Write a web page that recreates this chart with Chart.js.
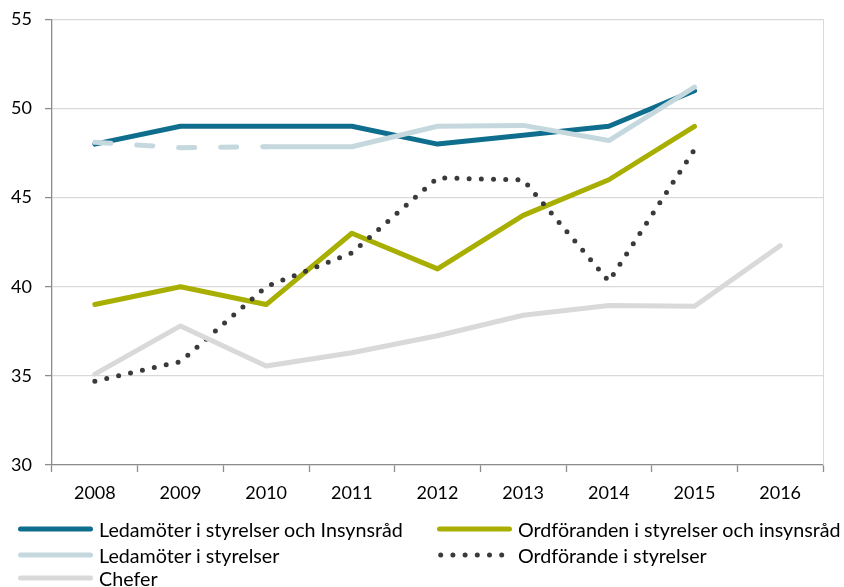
<!DOCTYPE html>
<html>
<head>
<meta charset="utf-8">
<script src="https://cdn.jsdelivr.net/npm/chart.js@4.4.1/dist/chart.umd.min.js"></script>
<style>
  html, body { margin: 0; padding: 0; background: #fff; }
  #wrap { position: relative; width: 844px; height: 587px; }
  #wrap canvas { position: absolute; left: 0; top: 0; }
  .lg { position: absolute; height: 24px; display: flex; align-items: center;
        font-family: Lato, "Liberation Sans", sans-serif; font-size: 19.7px; color: #000; white-space: nowrap; }
  .lg svg { display: block; margin-right: 6px; }
</style>
</head>
<body>
<div id="wrap">
  <canvas id="c" width="844" height="587"></canvas>
  <div id="legend"></div>
</div>
<script>
const years = ['2008','2009','2010','2011','2012','2013','2014','2015','2016'];
const ledamoterStyrelserInsynsrad = [48, 49, 49, 49, 48, 48.5, 49, 51, null];
const ordforandenStyrelserInsynsrad = [39, 40, 39, 43, 41, 44, 46, 49, null];
const ledamoterStyrelser = [48.1, 47.8, 47.85, 47.85, 49.0, 49.05, 48.2, 51.2, null];
const ordforandeStyrelser = [34.7, 35.8, 40.0, 41.9, 46.1, 46.0, 40.3, 47.7, null];
const chefer = [35.1, 37.8, 35.55, 36.3, 37.25, 38.4, 38.95, 38.9, 42.3];
const yTicks = [30, 35, 40, 45, 50, 55];

const seriesNames = [
  'Ledamöter i styrelser och Insynsråd',
  'Ordföranden i styrelser och insynsråd',
  'Ledamöter i styrelser',
  'Ordförande i styrelser',
  'Chefer'
];
const colors = ['#0f6e8d', '#a8af00', '#c5d8de', '#3a3a3a', '#d9d9d9'];

const rightBorder = {
  id: 'rightBorder',
  beforeDatasetsDraw(chart) {
    const a = chart.chartArea, ctx = chart.ctx;
    ctx.save();
    ctx.strokeStyle = '#d9d9d9';
    ctx.lineWidth = 1;
    ctx.beginPath();
    ctx.moveTo(Math.round(a.right) + 0.5, a.top);
    ctx.lineTo(Math.round(a.right) + 0.5, a.bottom);
    ctx.stroke();
    ctx.restore();
  }
};

const base = { pointRadius: 0, pointHoverRadius: 0, tension: 0, borderWidth: 5,
               borderCapStyle: 'round', borderJoinStyle: 'round', fill: false, spanGaps: false };

new Chart(document.getElementById('c'), {
  type: 'line',
  data: {
    labels: years,
    datasets: [
      Object.assign({}, base, { label: seriesNames[0], data: ledamoterStyrelserInsynsrad, borderColor: colors[0], order: 5 }),
      Object.assign({}, base, { label: seriesNames[1], data: ordforandenStyrelserInsynsrad, borderColor: colors[1], order: 4 }),
      Object.assign({}, base, { label: seriesNames[2], data: ledamoterStyrelser, borderColor: colors[2], order: 3,
        segment: { borderDash: ctx => ctx.p1DataIndex <= 2 ? [16, 26] : [] } }),
      Object.assign({}, base, { label: seriesNames[3], data: ordforandeStyrelser, borderColor: colors[3], order: 2,
        borderDash: [0, 12.2] }),
      Object.assign({}, base, { label: seriesNames[4], data: chefer, borderColor: colors[4], order: 1 })
    ]
  },
  options: {
    responsive: false,
    animation: false,
    events: [],
    layout: { padding: { top: 19.3, left: 0, right: 21, bottom: 82 } },
    plugins: { legend: { display: false }, tooltip: { enabled: false }, title: { display: false } },
    scales: {
      x: {
        type: 'category',
        offset: true,
        afterFit: s => { s.height = 40; },
        grid: { display: true, drawOnChartArea: false, drawTicks: true, offset: true,
                tickLength: 7, tickColor: '#8c8c8c', tickWidth: 1.3 },
        border: { display: true, color: '#8c8c8c', width: 1.3 },
        ticks: { color: '#000', padding: 10, maxRotation: 0, autoSkip: false,
                 font: { family: 'Lato', size: 18 } }
      },
      y: {
        min: 30, max: 55,
        afterFit: s => { s.width = 52; },
        afterBuildTicks: s => { s.ticks = yTicks.map(v => ({ value: v })); },
        grid: { color: '#d9d9d9', lineWidth: 1.2, drawTicks: true, tickLength: 7,
                tickColor: '#8c8c8c', tickWidth: 1.3 },
        border: { display: true, color: '#8c8c8c', width: 1.3 },
        ticks: { color: '#000', padding: 13, stepSize: 5,
                 font: { family: 'Lato', size: 18, lineHeight: 0.6 } }
      }
    }
  },
  plugins: [rightBorder]
});

// HTML legend, two columns
const legendPos = [
  { left: 18, top: 517 }, { left: 437, top: 517 },
  { left: 18, top: 543 }, { left: 437, top: 543 },
  { left: 18, top: 566 }
];
const lg = document.getElementById('legend');
seriesNames.forEach((name, i) => {
  const d = document.createElement('div');
  d.className = 'lg';
  d.style.left = legendPos[i].left + 'px';
  d.style.top = legendPos[i].top + 'px';
  const dotted = i === 3;
  const svg = '<svg width="75" height="10" viewBox="0 0 75 10">' +
    '<line x1="' + (dotted ? 3.7 : 2.5) + '" y1="5" x2="' + (dotted ? 65 : 72.5) + '" y2="5" stroke="' + colors[i] +
    '" stroke-width="5" stroke-linecap="round"' + (dotted ? ' stroke-dasharray="0 12.2"' : '') + '/></svg>';
  d.innerHTML = svg + '<span>' + name + '</span>';
  lg.appendChild(d);
});
</script>
</body>
</html>
